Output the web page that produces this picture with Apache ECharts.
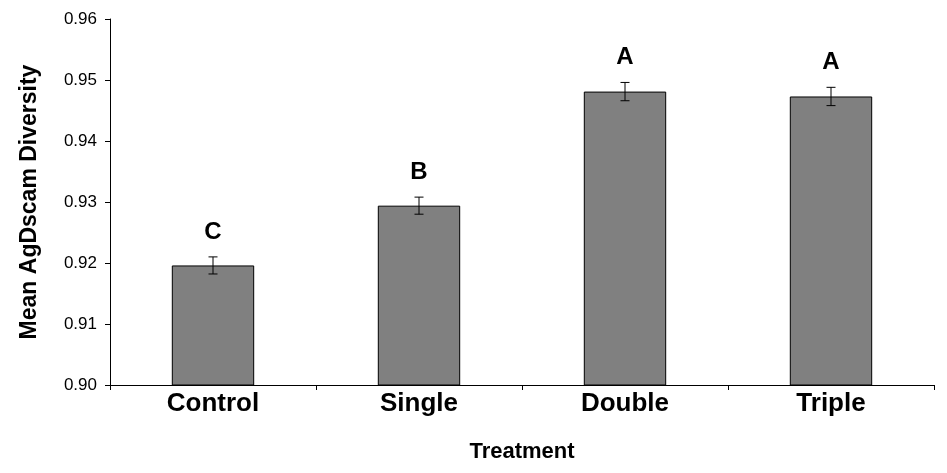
<!DOCTYPE html>
<html>
<head>
<meta charset="utf-8">
<script src="https://cdn.jsdelivr.net/npm/echarts@6/dist/echarts.min.js"></script>
<style>html,body{margin:0;padding:0;background:#fff}#c{width:947px;height:473px}</style>
</head>
<body>
<div id="c"></div>
<script>
const categories = ['Control', 'Single', 'Double', 'Triple'];
const means = [0.9196, 0.9294, 0.9481, 0.9473];
const errors = [0.0014, 0.0014, 0.0015, 0.0015];
const letters = ['C', 'B', 'A', 'A'];
const yTicks = [0.90, 0.91, 0.92, 0.93, 0.94, 0.95, 0.96];

const chart = echarts.init(document.getElementById('c'));
const font = 'Liberation Sans, Arial, sans-serif';

chart.setOption({
  animation: false,
  backgroundColor: '#fff',
  grid: { left: 110, right: 13, top: 19, bottom: 88, containLabel: false, outerBoundsMode: 'none' },
  xAxis: {
    type: 'category',
    data: categories,
    name: 'Treatment',
    nameLocation: 'middle',
    nameGap: 56,
    nameTextStyle: { fontFamily: font, fontWeight: 'bold', fontSize: 22, color: '#000' },
    axisLine: { lineStyle: { color: '#000', width: 1 } },
    axisTick: { show: true, alignWithLabel: false, length: 5, lineStyle: { color: '#000' } },
    axisLabel: { fontFamily: font, fontWeight: 'bold', fontSize: 26, color: '#000', margin: 6 }
  },
  yAxis: {
    type: 'value',
    min: yTicks[0],
    max: yTicks[yTicks.length - 1],
    interval: 0.01,
    name: 'Mean AgDscam Diversity',
    nameLocation: 'middle',
    nameGap: 69,
    nameTextStyle: { fontFamily: font, fontWeight: 'bold', fontSize: 23, color: '#000' },
    axisLine: { show: true, lineStyle: { color: '#000', width: 1 } },
    axisTick: { show: true, length: 5, lineStyle: { color: '#000' } },
    splitLine: { show: false },
    axisLabel: { fontFamily: font, fontSize: 17, color: '#000', margin: 13,
      formatter: v => v.toFixed(2) }
  },
  series: [
    {
      type: 'bar',
      data: means,
      barWidth: '40%',
      itemStyle: { color: '#808080', borderColor: '#000', borderWidth: 1 },
      z: 2
    },
    {
      type: 'custom',
      z: 5,
      data: categories.map((c, i) => [i, means[i], errors[i]]),
      renderItem: function (params, api) {
        const i = api.value(0), m = api.value(1), e = api.value(2);
        const top = api.coord([i, m + e]);
        const bot = api.coord([i, m - e]);
        const cap = 4.5;
        const st = { stroke: '#000', lineWidth: 1 };
        return {
          type: 'group',
          children: [
            { type: 'line', shape: { x1: top[0], y1: top[1], x2: bot[0], y2: bot[1] }, style: st },
            { type: 'line', shape: { x1: top[0] - cap, y1: top[1], x2: top[0] + cap, y2: top[1] }, style: st },
            { type: 'line', shape: { x1: bot[0] - cap, y1: bot[1], x2: bot[0] + cap, y2: bot[1] }, style: st }
          ]
        };
      }
    },
    {
      type: 'custom',
      z: 6,
      data: categories.map((c, i) => [i, means[i] + errors[i]]),
      renderItem: function (params, api) {
        const i = api.value(0), y = api.value(1);
        const p = api.coord([i, y]);
        return {
          type: 'text',
          style: {
            x: p[0], y: p[1] - 25,
            text: letters[params.dataIndex],
            fontFamily: font, fontWeight: 'bold', fontSize: 24, fill: '#000',
            align: 'center', verticalAlign: 'middle'
          }
        };
      }
    }
  ]
});
</script>
</body>
</html>
